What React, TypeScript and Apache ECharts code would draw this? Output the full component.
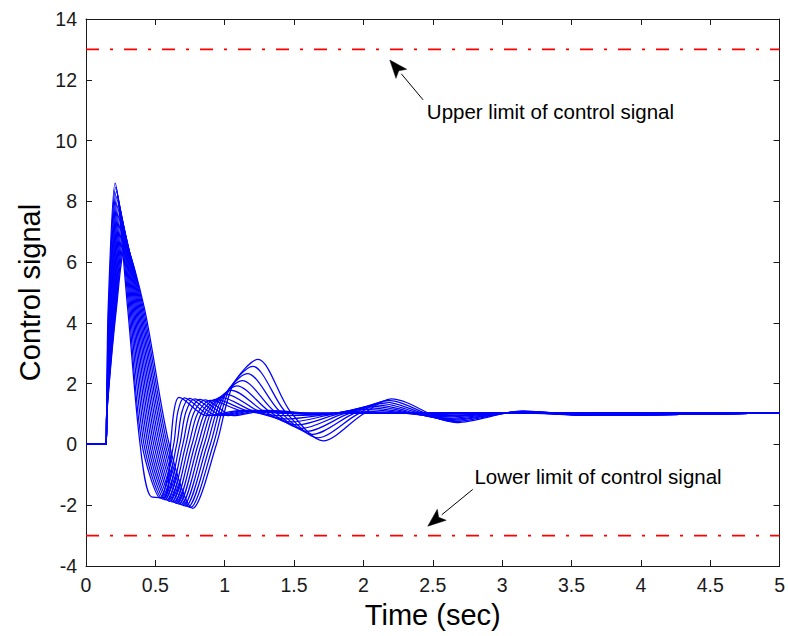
import { useEffect, useRef } from "react";
import * as echarts from "echarts";

// Family of control-signal responses: [time (s), value]
const curve00 = [[0,0],[0.145,0],[0.15,1.5],[0.16,4.5],[0.21,8.6],[0.30,4.5],[0.39,0],[0.47,-1.72],[0.57,-1.75],[0.61,0],[0.634,1.09],[0.67,1.55],[0.87,0.95],[1.12,1.12],[1.47,1.02],[2.6,1.03],[5,1.04]];
const curve01 = [[0,0],[0.145,0],[0.15,1.47],[0.164,4.5],[0.215,8.46],[0.308,4.5],[0.404,0],[0.537,-1.77],[0.632,0],[0.662,1.07],[0.708,1.53],[0.908,0.95],[1.158,1.12],[1.508,1.02],[2.6,1.03],[5,1.04]];
const curve02 = [[0,0],[0.145,0],[0.15,1.43],[0.168,4.5],[0.22,8.32],[0.316,4.5],[0.418,0],[0.553,-1.8],[0.654,0],[0.691,1.06],[0.746,1.52],[0.946,0.95],[1.196,1.12],[1.546,1.02],[2.6,1.03],[5,1.04]];
const curve03 = [[0,0],[0.145,0],[0.15,1.4],[0.172,4.5],[0.225,8.18],[0.324,4.5],[0.432,0],[0.57,-1.82],[0.676,0],[0.719,1.05],[0.784,1.5],[0.984,0.95],[1.234,1.12],[1.584,1.02],[2.6,1.03],[5,1.04]];
const curve04 = [[0,0],[0.145,0],[0.15,1.37],[0.176,4.5],[0.23,8.04],[0.332,4.5],[0.446,0],[0.587,-1.84],[0.698,0],[0.748,1.04],[0.822,1.48],[1.022,0.95],[1.272,1.12],[1.622,1.02],[2.6,1.03],[5,1.04]];
const curve05 = [[0,0],[0.145,0],[0.15,1.33],[0.18,4.5],[0.235,7.9],[0.34,4.5],[0.46,0],[0.603,-1.87],[0.72,0],[0.776,1.03],[0.86,1.47],[1.06,0.95],[1.31,1.12],[1.66,1.02],[2.6,1.03],[5,1.04]];
const curve06 = [[0,0],[0.145,0],[0.15,1.3],[0.184,4.5],[0.24,7.76],[0.348,4.5],[0.474,0],[0.62,-1.89],[0.742,0],[0.804,1.02],[0.898,1.45],[1.128,1.1],[1.368,1.05],[1.648,0.98],[1.95,1.05],[2.47,1.02],[3.15,1.03],[3.6,0.97],[5,1.04]];
const curve07 = [[0,0],[0.145,0],[0.15,1.27],[0.188,4.5],[0.245,7.62],[0.356,4.5],[0.488,0],[0.637,-1.91],[0.764,0],[0.833,1.04],[0.936,1.48],[1.166,1.1],[1.406,0.95],[1.686,0.98],[1.978,1.1],[2.492,0.99],[3.15,1.04],[3.6,0.97],[5,1.04]];
const curve08 = [[0,0],[0.145,0],[0.15,1.23],[0.192,4.5],[0.25,7.48],[0.364,4.5],[0.502,0],[0.653,-1.94],[0.786,0],[0.861,1.085],[0.974,1.55],[1.204,1.1],[1.444,0.84],[1.724,0.98],[2.006,1.15],[2.514,0.95],[3.15,1.05],[3.6,0.97],[5,1.04]];
const curve09 = [[0,0],[0.145,0],[0.15,1.2],[0.196,4.5],[0.255,7.34],[0.372,4.5],[0.516,0],[0.67,-1.96],[0.808,0],[0.89,1.155],[1.012,1.65],[1.242,1.1],[1.482,0.74],[1.762,0.98],[2.033,1.2],[2.537,0.92],[3.15,1.06],[3.6,0.97],[5,1.04]];
const curve10 = [[0,0],[0.145,0],[0.15,1.17],[0.2,4.5],[0.26,7.2],[0.38,4.5],[0.53,0],[0.687,-1.98],[0.83,0],[0.918,1.25],[1.05,1.78],[1.28,1.1],[1.52,0.64],[1.8,0.98],[2.061,1.25],[2.559,0.89],[3.15,1.065],[3.6,0.97],[5,1.04]];
const curve11 = [[0,0],[0.145,0],[0.15,1.13],[0.204,4.5],[0.265,7.06],[0.388,4.5],[0.544,0],[0.703,-2.01],[0.852,0],[0.946,1.35],[1.088,1.93],[1.318,1.1],[1.558,0.53],[1.838,0.98],[2.089,1.3],[2.581,0.85],[3.15,1.075],[3.6,0.97],[5,1.04]];
const curve12 = [[0,0],[0.145,0],[0.15,1.1],[0.208,4.5],[0.27,6.92],[0.396,4.5],[0.558,0],[0.72,-2.03],[0.874,0],[0.975,1.47],[1.126,2.1],[1.356,1.1],[1.596,0.43],[1.876,0.98],[2.117,1.35],[2.603,0.82],[3.15,1.08],[3.6,0.97],[5,1.04]];
const curve13 = [[0,0],[0.145,0],[0.15,1.07],[0.212,4.5],[0.275,6.78],[0.404,4.5],[0.572,0],[0.737,-2.05],[0.896,0],[1.003,1.63],[1.164,2.33],[1.394,1.1],[1.634,0.33],[1.914,0.98],[2.144,1.4],[2.626,0.79],[3.15,1.09],[3.6,0.97],[5,1.04]];
const curve14 = [[0,0],[0.145,0],[0.15,1.03],[0.216,4.5],[0.28,6.64],[0.412,4.5],[0.586,0],[0.753,-2.08],[0.918,0],[1.032,1.8],[1.202,2.57],[1.432,1.1],[1.672,0.22],[1.952,0.98],[2.172,1.45],[2.648,0.75],[3.15,1.095],[3.6,0.97],[5,1.04]];
const curve15 = [[0,0],[0.145,0],[0.15,1.0],[0.22,4.5],[0.285,6.5],[0.42,4.5],[0.6,0],[0.77,-2.1],[0.94,0],[1.06,1.96],[1.24,2.8],[1.47,1.1],[1.71,0.12],[1.99,0.98],[2.2,1.5],[2.67,0.72],[3.15,1.1],[3.6,0.97],[5,1.04]];

const curves = [curve00, curve01, curve02, curve03, curve04, curve05, curve06, curve07, curve08, curve09, curve10, curve11, curve12, curve13, curve14, curve15];

const upperLimit = 13;
const lowerLimit = -3;
const timeRange = [0, 5];

const upperText = "Upper limit of control signal";
const lowerText = "Lower limit of control signal";
// annotation anchors in data coordinates
const upperTextAt = [2.457, 10.94];
const upperArrowFrom = [2.43, 11.34];
const upperArrowTo = [2.19, 12.65];
const lowerTextAt = [2.8, -1.05];
const lowerArrowFrom = [2.788, -1.48];
const lowerArrowTo = [2.464, -2.69];

const FONT = "'Liberation Sans', Arial, Helvetica, sans-serif";

function arrowHead(from: number[], to: number[]) {
  const dx = to[0] - from[0];
  const dy = to[1] - from[1];
  const len = Math.hypot(dx, dy) || 1;
  const ux = dx / len;
  const uy = dy / len;
  const px = -uy;
  const py = ux;
  const L = 18;
  const W = 7;
  const bx = to[0] - ux * L;
  const by = to[1] - uy * L;
  const nx = to[0] - ux * (L - 4);
  const ny = to[1] - uy * (L - 4);
  return [
    [to[0], to[1]],
    [bx + px * W, by + py * W],
    [nx, ny],
    [bx - px * W, by - py * W],
  ];
}

export default function App() {
  const ref = useRef<HTMLDivElement>(null);
  useEffect(() => {
    if (!ref.current) return;
    const chart = echarts.init(ref.current, null, { renderer: "svg" });
    const axisLine = { show: true, onZero: false, lineStyle: { color: "#1a1a1a", width: 1 } };
    const axisTick = { show: true, inside: true, length: 6, lineStyle: { color: "#1a1a1a", width: 1 } };
    const labelStyle = { color: "#1a1a1a", fontSize: 19.5, fontFamily: FONT };

    const series: any[] = curves.map((c, i) => ({
      type: "line",
      name: "u" + i,
      data: c,
      xAxisIndex: 0,
      yAxisIndex: 0,
      showSymbol: false,
      smooth: 0.3,
      color: "#0000ff",
      lineStyle: { color: "#0000ff", width: 1.25 },
      silent: true,
      z: 3,
    }));
    const limitStyle = { color: "#ff0000", width: 1.8, type: [13, 11, 3, 11] };
    series.push({
      type: "line",
      name: "upper",
      data: [[timeRange[0], upperLimit], [timeRange[1], upperLimit]],
      showSymbol: false,
      color: "#ff0000",
      lineStyle: limitStyle,
      silent: true,
      z: 2,
    });
    series.push({
      type: "line",
      name: "lower",
      data: [[timeRange[0], lowerLimit], [timeRange[1], lowerLimit]],
      showSymbol: false,
      color: "#ff0000",
      lineStyle: limitStyle,
      silent: true,
      z: 2,
    });

    chart.setOption({
      animation: false,
      backgroundColor: "#ffffff",
      grid: { left: 86, right: 8, top: 19, bottom: 70, containLabel: false },
      xAxis: [
        {
          type: "value",
          min: 0,
          max: 5,
          interval: 0.5,
          position: "bottom",
          axisLine,
          axisTick,
          axisLabel: { ...labelStyle, margin: 9 },
          splitLine: { show: false },
          name: "Time (sec)",
          nameLocation: "middle",
          nameGap: 34,
          nameTextStyle: { fontSize: 29, fontFamily: FONT, color: "#000" },
        },
        {
          type: "value",
          min: 0,
          max: 5,
          interval: 0.5,
          position: "top",
          axisLine,
          axisTick,
          axisLabel: { show: false },
          splitLine: { show: false },
        },
      ],
      yAxis: [
        {
          type: "value",
          min: -4,
          max: 14,
          interval: 2,
          position: "left",
          axisLine,
          axisTick,
          axisLabel: { ...labelStyle, margin: 9 },
          splitLine: { show: false },
          name: "Control signal",
          nameLocation: "middle",
          nameGap: 42,
          nameTextStyle: { fontSize: 29, fontFamily: FONT, color: "#000" },
        },
        {
          type: "value",
          min: -4,
          max: 14,
          interval: 2,
          position: "right",
          axisLine,
          axisTick,
          axisLabel: { show: false },
          splitLine: { show: false },
        },
      ],
      series,
    });

    const toPx = (p: number[]) => chart.convertToPixel({ seriesIndex: 0 }, p) as number[];
    const graphics: any[] = [];
    const items = [
      { text: upperText, at: upperTextAt, from: upperArrowFrom, to: upperArrowTo },
      { text: lowerText, at: lowerTextAt, from: lowerArrowFrom, to: lowerArrowTo },
    ];
    items.forEach((it) => {
      const t = toPx(it.at);
      const f = toPx(it.from);
      const to = toPx(it.to);
      const head = arrowHead(f, to);
      const base = [(head[1][0] + head[3][0]) / 2, (head[1][1] + head[3][1]) / 2];
      graphics.push({
        type: "line",
        shape: { x1: f[0], y1: f[1], x2: base[0], y2: base[1] },
        style: { stroke: "#000", lineWidth: 1 },
        silent: true,
      });
      graphics.push({
        type: "polygon",
        shape: { points: head },
        style: { fill: "#000", stroke: "#000", lineWidth: 0.5 },
        silent: true,
      });
      graphics.push({
        type: "text",
        x: t[0],
        y: t[1],
        style: {
          text: it.text,
          fontSize: 20.5,
          fontFamily: FONT,
          fill: "#000",
          align: "left",
          verticalAlign: "middle",
        },
        silent: true,
      });
    });
    chart.setOption({ graphic: graphics });

    return () => chart.dispose();
  }, []);

  return (
    <div
      ref={ref}
      style={{ position: "absolute", left: 0, top: 0, width: 788, height: 636, background: "#fff" }}
    />
  );
}
